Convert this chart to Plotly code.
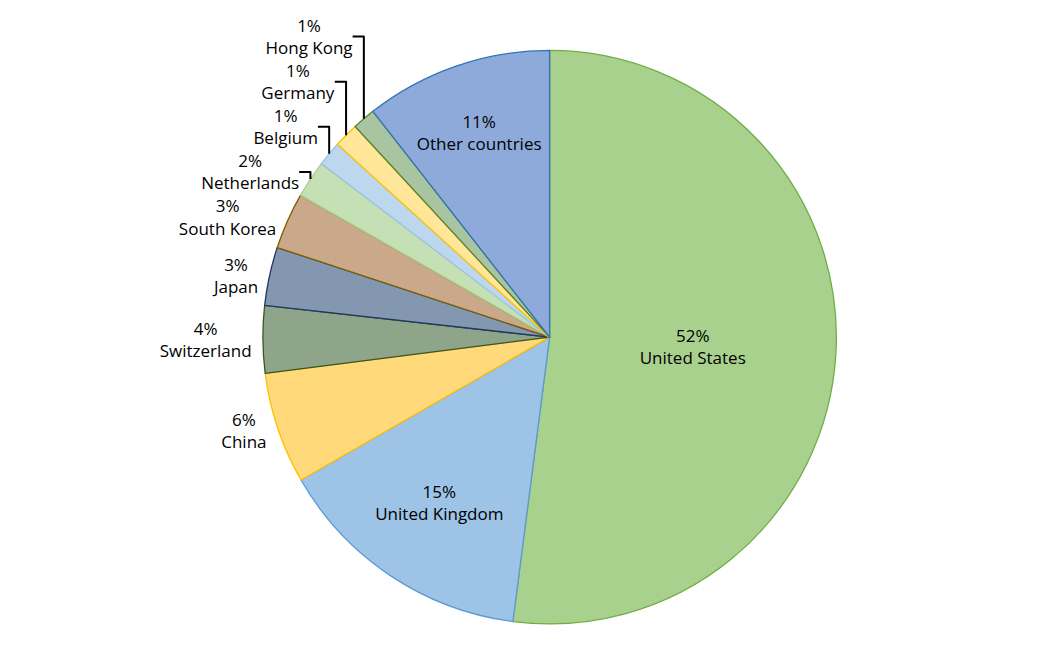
import plotly.graph_objects as go

labels = ["United States", "United Kingdom", "China", "Switzerland", "Japan",
          "South Korea", "Netherlands", "Belgium", "Germany", "Hong Kong", "Other countries"]
values = [52.2, 14.7, 6.3, 3.8, 3.3, 3.2, 2.1, 1.4, 1.4, 1.3, 10.6]
fills = ["#a9d18e", "#9dc3e6", "#ffd97a", "#8fa58a", "#8497b0", "#c9a98a",
         "#c5e0b4", "#bdd7ee", "#ffe699", "#a9c4a0", "#8eaadb"]
lines = ["#70ad47", "#5b9bd5", "#ffc000", "#375623", "#203864", "#7f6000",
         "#a9d18e", "#9dc3e6", "#ffc000", "#548235", "#2e75b6"]
positions = ["inside", "inside"] + ["outside"] * 8 + ["inside"]

fig = go.Figure(go.Pie(
    labels=labels, values=values, sort=False, direction="clockwise", rotation=0,
    marker=dict(colors=fills, line=dict(color=lines, width=1.3)),
    texttemplate="%{percent:.0%}<br>%{label}", textposition=positions,
    insidetextorientation="horizontal",
    textfont=dict(family="Open Sans", size=17, color="#000"),
    domain=dict(x=[0.24, 0.78], y=[0.079, 0.937]),
    showlegend=False,
))
fig.update_layout(width=1062, height=669, margin=dict(l=0, r=0, t=0, b=0),
                  paper_bgcolor="white", plot_bgcolor="white")
fig.write_html("out.html")
